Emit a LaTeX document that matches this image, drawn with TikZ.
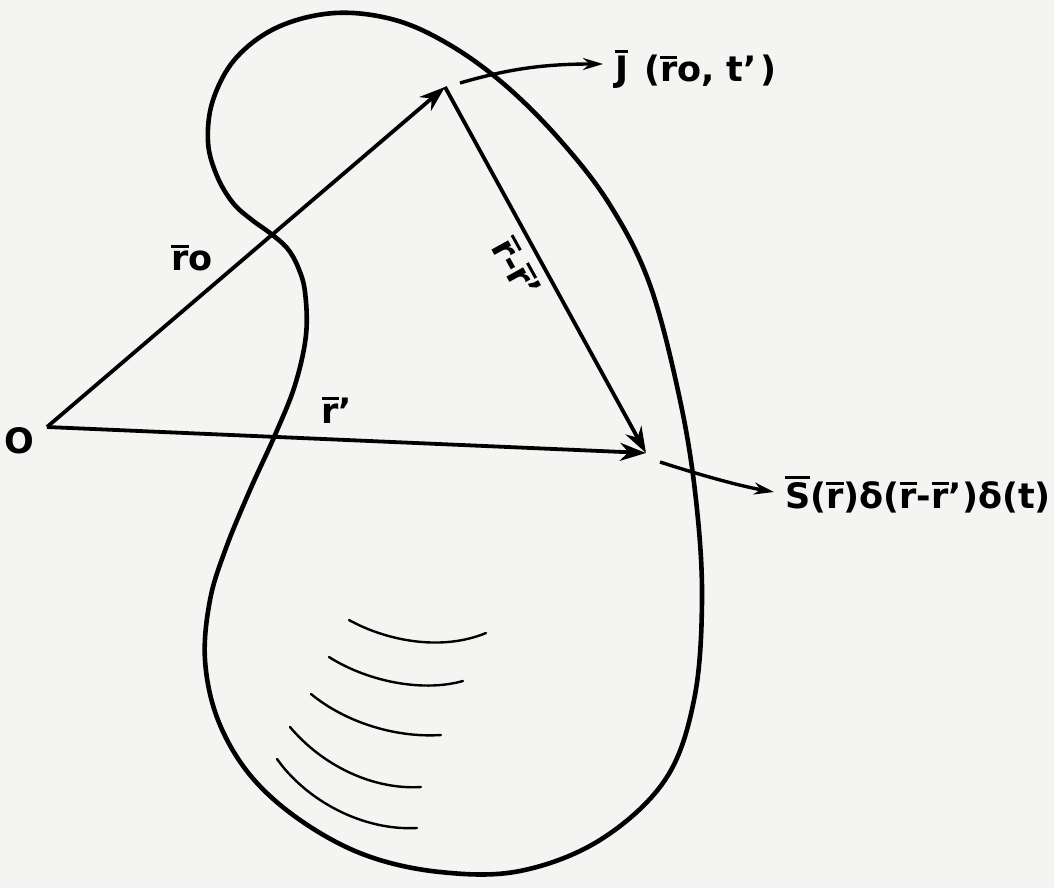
\documentclass[tikz,border=0pt]{standalone}
\usepackage{fontspec}
\setmainfont{DejaVu Sans}
\usetikzlibrary{arrows.meta,calc}
\definecolor{paper}{RGB}{244,244,242}
\newcommand\ovl[1]{\vbox{\hrule height 3pt\kern 3.5pt\hbox{#1}}}
\begin{document}
\begin{tikzpicture}[x=1pt,y=-1pt,
  outline/.style={line width=4.6pt, line join=round},
  vec/.style={line width=3.8pt, -{Stealth[length=26pt,width=18pt]}},
  lead/.style={line width=3.4pt, -{Stealth[length=20pt,width=12pt]}},
  hatch/.style={line width=2.4pt, line cap=round},
  lbl/.style={inner sep=0pt, font=\bfseries\fontsize{35}{35}\selectfont}]
\useasboundingbox[fill=paper] (0,0) rectangle (1054,888);

% blob outline
\draw[outline] plot[smooth cycle, tension=0.6] coordinates {
  (270,233) (252,220) (233,203) (217,176) (208,142) (213,100) (236,58) (278,27)
  (335,13) (395,20) (450,45) (505,85) (560,140) (610,205) (650,285)
  (680,400) (696,500) (702,600) (694,700) (665,780) (600,840) (520,871)
  (440,872) (365,855) (300,820) (250,775) (218,720) (205,660) (210,600)
  (226,548) (250,490) (275,435) (295,385) (306,335) (305,292) (298,267) (287,248)};

% hatching arcs
\draw[hatch] (349,620) .. controls (385,640) and (440,652) .. (486,633);
\draw[hatch] (329,657) .. controls (365,680) and (420,693) .. (463,681);
\draw[hatch] (311,694) .. controls (345,722) and (395,738) .. (441,735);
\draw[hatch] (290,727) .. controls (322,765) and (372,790) .. (421,787);
\draw[hatch] (277,759) .. controls (306,800) and (362,831) .. (417,828);

% points
\coordinate (O) at (47,427);
\coordinate (P1) at (445,87);
\coordinate (P2) at (646,453);

% vectors
\draw[vec] (O) -- (P1);
\draw[vec] (O) -- (P2);
\draw[vec] (P1) -- (P2);

% labels
\node[lbl] (Olab) at (19,441) {O};
\node[lbl] (r0) at (192,258) {\ovl{r}o};
\node[lbl] (rp) at (337,410) {\ovl{r}'};
\node[lbl, rotate=-61] (rr) at (517,268) {\ovl{r}-\ovl{r}'};

\node[lbl, anchor=base west] (J) at (615,82) {\ovl{J}\hspace{16pt}(\ovl{r}o,\hspace{12pt}t'\hspace{4pt})};
\node[lbl, anchor=base west] (S) at (785,508) {\ovl{S}(\ovl{r})δ(\ovl{r}-\ovl{r}')δ(t)};

% leaders
\coordinate (J0) at (460,83);
\coordinate (Jt) at (603,64);
\draw[lead] (J0) .. controls (505,70) and (540,64) .. (Jt);
\coordinate (S0) at (660,462);
\coordinate (St) at (774,492);
\draw[lead] (S0) .. controls (700,475) and (740,486) .. (St);
\end{tikzpicture}
\end{document}
